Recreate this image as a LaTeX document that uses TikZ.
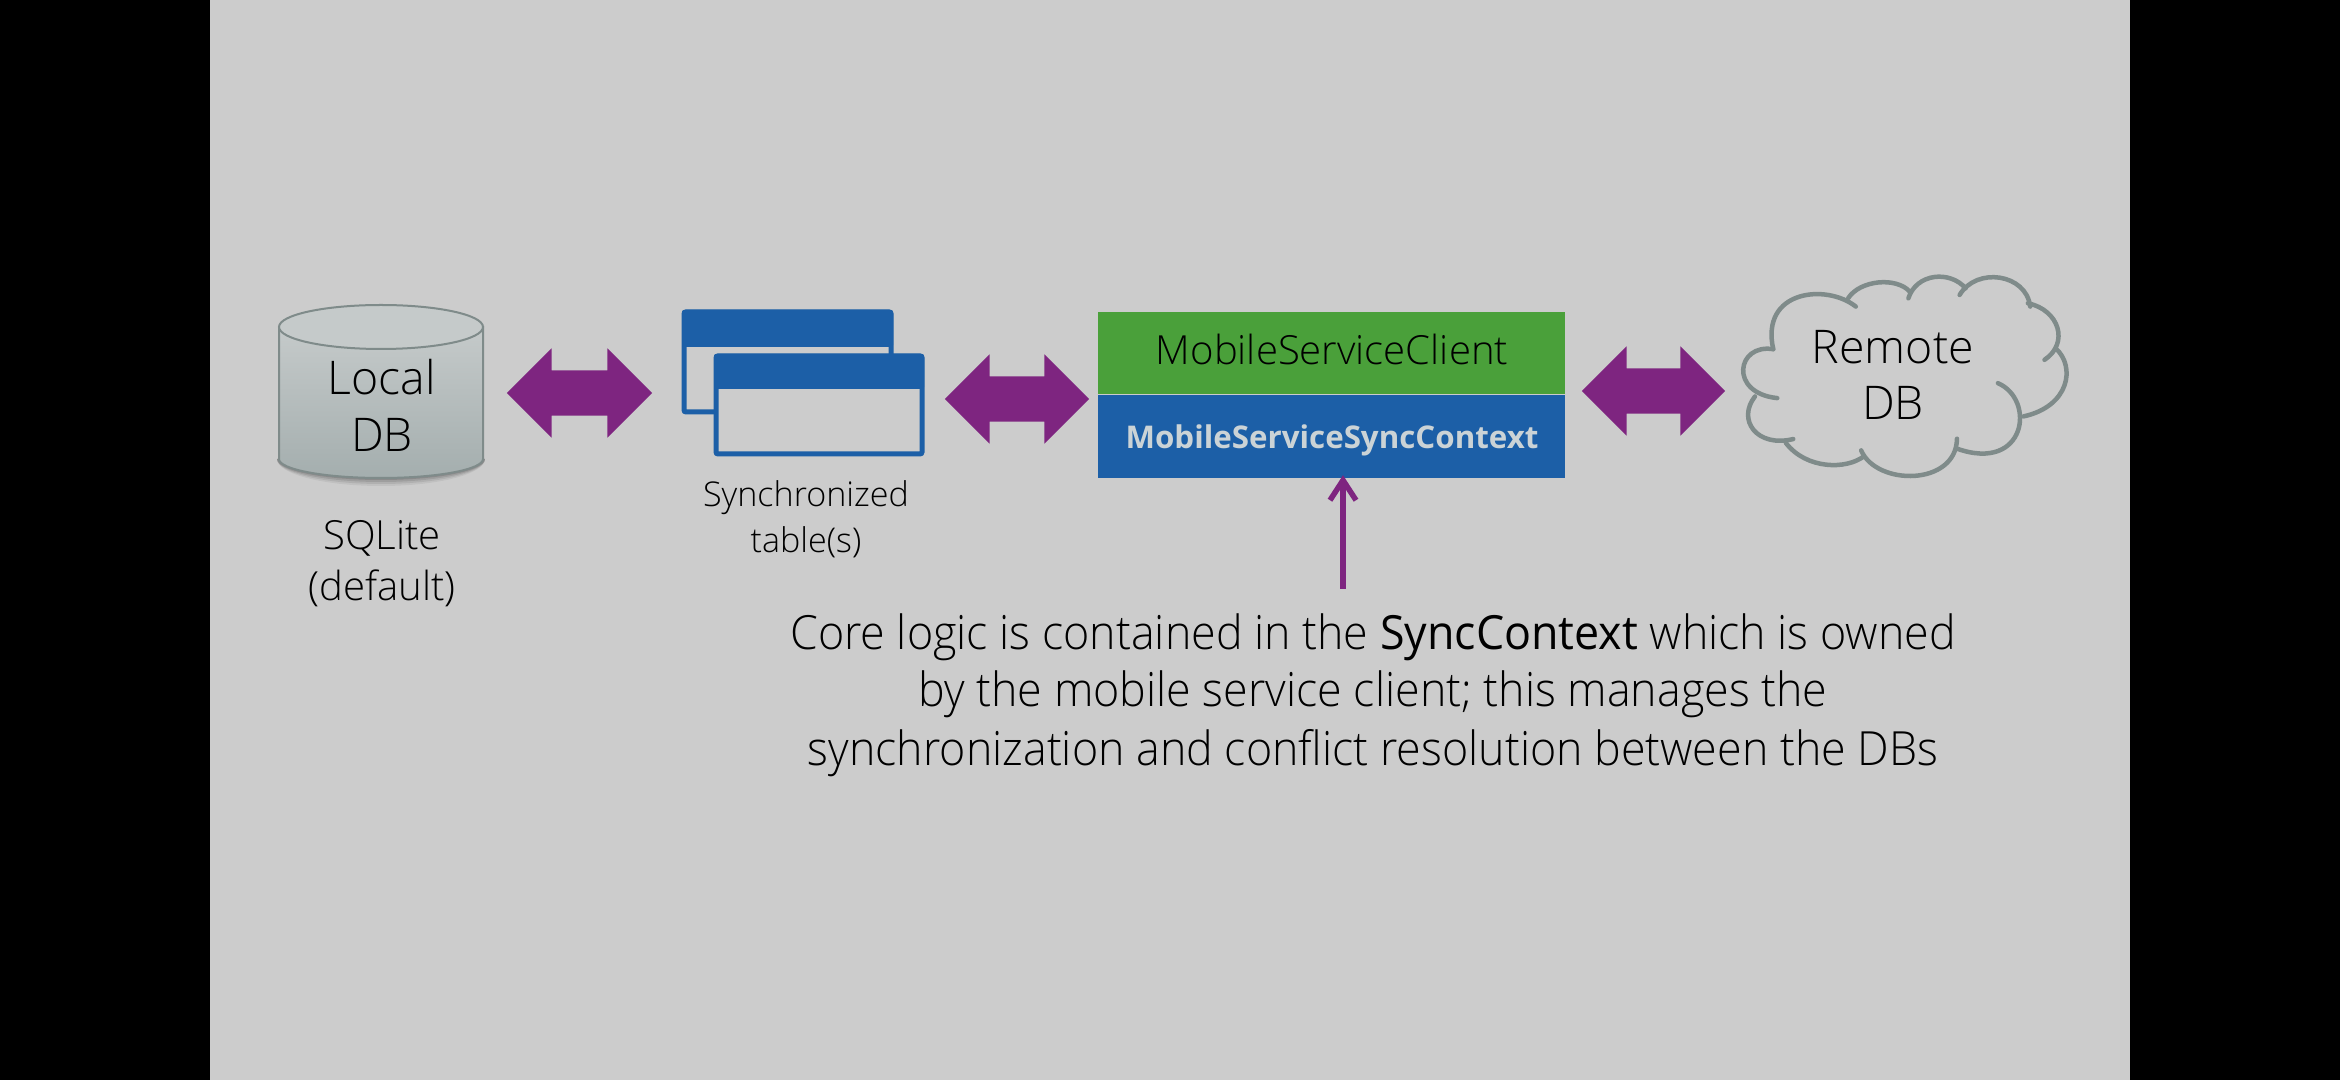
\documentclass[tikz,border=0pt]{standalone}
\usepackage{fontspec}
\setmainfont{Open Sans Light}[BoldFont=Open Sans]
\newfontfamily\bodyfont{Open Sans Light}[BoldFont=Open Sans,FakeStretch=0.95]
\newfontfamily\heavyfont{Open Sans}[BoldFont=Open Sans Bold]
\usetikzlibrary{arrows.meta,shapes.arrows,positioning}
\definecolor{slidegray}{HTML}{CCCCCC}
\definecolor{barblue}{HTML}{1C5FA7}
\definecolor{clientgreen}{HTML}{4AA03A}
\definecolor{linkpurple}{HTML}{7E2580}
\definecolor{cloudgray}{HTML}{7F8B8A}
\definecolor{drumtop}{HTML}{C5CACA}
\definecolor{drumlow}{HTML}{A4AEAE}
\definecolor{ctxtext}{HTML}{CBD3D6}
\tikzset{
  bigarrow/.style={double arrow,fill=linkpurple,inner xsep=0pt,inner ysep=0.22cm,
    double arrow head extend=0.22cm,minimum width=0.88cm},
  winbox/.style={draw=barblue,line width=0.05cm,rounded corners=0.02cm},
  winbar/.style={fill=barblue,rounded corners=0.02cm},
  tag/.style={anchor=base,inner sep=0pt,text=black},
  bigtag/.style={tag,font=\fontsize{13.2}{16}\selectfont},
  midtag/.style={tag,font=\fontsize{11.4}{14}\selectfont},
  smalltag/.style={tag,font=\fontsize{9.7}{12}\selectfont},
  bodytag/.style={tag,font=\bodyfont\fontsize{13.4}{16}\selectfont},
  cloudline/.style={draw=cloudgray,line width=0.045cm,line cap=round},
}
\begin{document}
\begin{tikzpicture}[x=0.01cm,y=-0.01cm]
\useasboundingbox (0,0) rectangle (2340,1080);
\fill[black] (0,0) rectangle (2340,1080);
\fill[slidegray] (210,0) rectangle (2130,1080);
% local db
\foreach \s/\o in {2/0.12,4/0.1,6/0.08,8/0.06}
    \fill[black,opacity=\o] (277,459) arc[start angle=180,end angle=0,x radius=104,y radius=19+\s] -- cycle;
\draw[draw=cloudgray,line width=0.02cm,top color=drumtop,bottom color=drumlow]
    (279,327) -- (279,459) arc[start angle=180,end angle=0,x radius=102,y radius=19] -- (483,327) -- cycle;
\draw[draw=cloudgray,line width=0.02cm,fill=drumtop] (381,327) ellipse[x radius=102,y radius=22];
\node[bigtag] (localname) at (382,395) {Local};
\node[bigtag] (localdb) at (382,452) {DB};
\node[midtag] (sqlname) at (382,550) {SQLite};
\node[midtag] (sqldefault) at (382,601) {(default)};
% tables
\draw[winbox] (684,312) rectangle (891,412);
\fill[winbar] (682,310) rectangle (893,347);
\draw[winbox,fill=slidegray] (716,356) rectangle (922,454);
\fill[winbar] (714,354) rectangle (924,389);
\node[smalltag] (synctag) at (806,507) {Synchronized};
\node[smalltag] (tabletag) at (806,553) {table(s)};
% client
\node[fill=clientgreen,minimum width=4.67cm,minimum height=0.82cm,inner sep=0pt] (clientbox) at (1331.5,353) {};
\node[fill=barblue,minimum width=4.67cm,minimum height=0.83cm,inner sep=0pt,below=0pt of clientbox] (syncbox) {};
\node[midtag] (clientname) at (1332,365) {MobileServiceClient};
\node[tag,text=ctxtext,font=\heavyfont\bfseries\fontsize{8.9}{12}\selectfont] (synctext) at (1332,449) {MobileServiceSyncContext};
% links
\node[bigarrow,minimum height=1.45cm] (linka) at (579.5,393) {};
\node[bigarrow,minimum height=1.44cm] (linkb) at (1017,399) {};
\node[bigarrow,minimum height=1.43cm] (linkc) at (1653.5,391) {};
% cloud
\begin{scope}[shift={(1720,260)},x=0.00333cm,y=-0.00333cm]
\draw[cloudline] (160,268) .. controls (50,250) and (25,400) .. (172,415);
\draw[cloudline] (105,410) .. controls (50,480) and (110,565) .. (220,538);
\draw[cloudline] (198,550) .. controls (260,630) and (380,630) .. (432,590);
\draw[cloudline] (424,572) .. controls (470,680) and (710,680) .. (712,537);
\draw[cloudline] (835,370) .. controls (950,420) and (920,640) .. (712,567);
\draw[cloudline] (912,470) .. controls (1050,440) and (1070,320) .. (1008,265);
\draw[cloudline] (975,300) .. controls (1050,250) and (1020,150) .. (925,130);
\draw[cloudline] (932,140) .. controls (920,40) and (770,20) .. (720,105);
\draw[cloudline] (738,85) .. controls (690,30) and (590,40) .. (566,115);
\draw[cloudline] (570,95) .. controls (530,50) and (420,60) .. (385,115);
\draw[cloudline] (408,140) .. controls (320,70) and (120,90) .. (160,268);
\end{scope}
\node[bigtag] (remotename) at (1893,364) {Remote};
\node[bigtag] (remotedb) at (1893,420) {DB};
% core logic
\node[bodytag] (lineone) at (1373,650) {Core logic is contained in the \textbf{SyncContext} which is owned};
\node[bodytag] (linetwo) at (1373,707) {by the mobile service client; this manages the};
\node[bodytag] (linethree) at (1373,765) {synchronization and conflict resolution between the DBs};
\coordinate (tailpt) at (1343,589);
\draw[linkpurple,line width=0.055cm,-{Straight Barb[length=0.2cm,width=0.26cm]},shorten >=-0.04cm]
    (tailpt) -- (tailpt |- syncbox.south);
\end{tikzpicture}
\end{document}
